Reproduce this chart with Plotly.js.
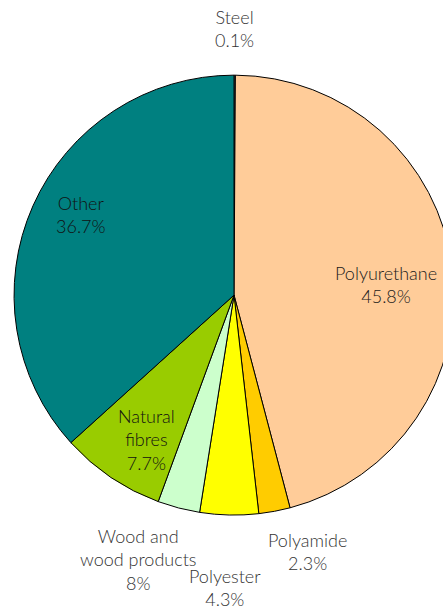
<!DOCTYPE html>
<html><head><meta charset="utf-8">
<script src="https://cdn.plot.ly/plotly-3.0.1.min.js"></script>
<style>html,body{margin:0;padding:0;overflow:hidden;background:#fff;width:443px;height:611px}#c{width:468px;height:611px}</style>
</head><body><div id="c"></div>
<script>
const labels = ["Steel","Polyurethane","Polyamide","Polyester","Wood and wood products","Natural fibres","Other"];
const values = [0.1, 45.8, 2.3, 4.3, 3.1, 7.7, 36.7];
const texts = ["Steel<br>0.1%","Polyurethane<br>45.8%","Polyamide<br>2.3%","Polyester<br>4.3%","Wood and<br>wood products<br>8%","Natural<br>fibres<br>7.7%","Other<br>36.7%"];
const colors = ["#808080","#FFCC99","#FFCC00","#FFFF00","#CCFFCC","#99CC00","#008080"];

// label anchor positions in page pixels (layout only)
const W = 468, H = 611;
const labelPos = [[234,29],[386,285],[307,551],[225,587],[138,559],[146,439],[81,214]];
const labelColor = ["#333","#1a1a1a","#333","#333","#333","#111","#111"];

const annotations = texts.map((t, i) => ({
  text: t, showarrow: false, align: "center",
  xref: "paper", yref: "paper",
  x: labelPos[i][0] / W, y: 1 - labelPos[i][1] / H,
  xanchor: "center", yanchor: "middle",
  font: {family: "Lato, sans-serif", size: 18, weight: 300, color: labelColor[i]}
}));

Plotly.newPlot("c", [{
  type: "pie",
  labels: labels,
  values: values,
  textinfo: "none",
  hoverinfo: "label+percent",
  sort: false,
  direction: "clockwise",
  rotation: 0,
  marker: {colors: colors, line: {color: "#000", width: 1}},
  domain: {x: [0, 1], y: [0.157, 0.877]},
  showlegend: false
}], {
  width: W, height: H,
  margin: {l: 0, r: 0, t: 0, b: 0},
  paper_bgcolor: "#fff",
  showlegend: false,
  annotations: annotations
}, {staticPlot: true});
</script></body></html>
